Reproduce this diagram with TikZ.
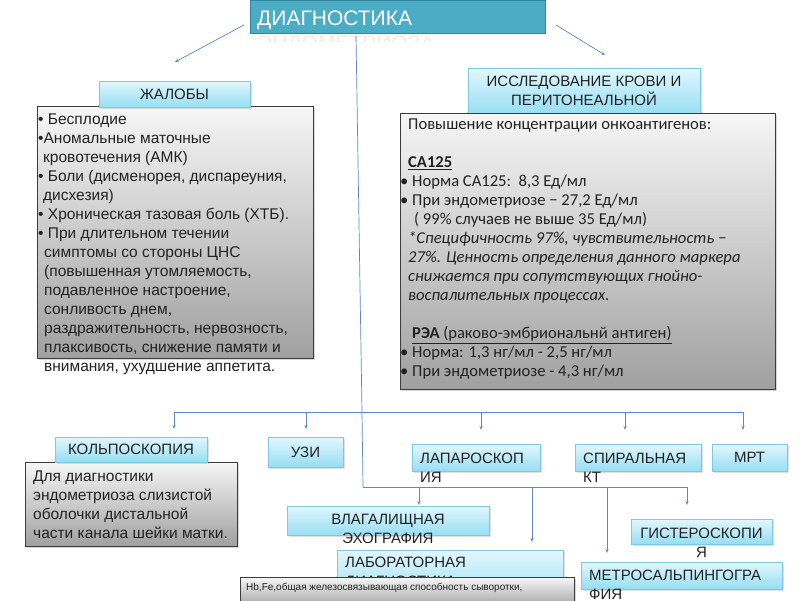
\documentclass[tikz,border=0pt]{standalone}
\usepackage{fontspec}
\setmainfont{Liberation Sans}
\newfontfamily\calibri{Carlito}
\usetikzlibrary{arrows.meta,shadows,positioning,calc}

\begin{document}
\begin{tikzpicture}[x=1pt, y=-1pt, >={Stealth[length=4pt,width=3pt]},
  headbox/.style={draw=boxedge, line width=0.6pt, top color=boxtop, bottom color=boxbottom,
    drop shadow={shadow xshift=1.5pt, shadow yshift=-1.5pt, opacity=0.25},
    inner sep=0pt, text=textgray, font=\fontsize{15}{19}\selectfont},
  notebox/.style={draw=noteedge, line width=0.8pt, top color=notetop, bottom color=notebottom,
    drop shadow={shadow xshift=2pt, shadow yshift=-2pt, opacity=0.3}, inner sep=0pt},
  boxtext/.style={inner sep=0pt, text=textgray, font=\fontsize{15}{19}\selectfont},
  bodytext/.style={anchor=north west, inner sep=0pt, align=left, text=textgray,
    font=\fontsize{15.5}{19}\selectfont},
  link/.style={draw=linkblue, line width=0.7pt}]
  % Define colors
  \definecolor{titleteal}{RGB}{75,172,198}
  \definecolor{titleedge}{RGB}{49,132,155}
  \definecolor{boxtop}{RGB}{226,247,253}
  \definecolor{boxbottom}{RGB}{150,222,243}
  \definecolor{boxedge}{RGB}{125,200,228}
  \definecolor{notetop}{RGB}{246,246,246}
  \definecolor{notebottom}{RGB}{160,160,160}
  \definecolor{noteedge}{RGB}{60,60,60}
  \definecolor{linkblue}{RGB}{95,135,195}
  \definecolor{textgray}{RGB}{34,34,34}

  \useasboundingbox[fill=white] (0,0) rectangle (800,600);

  % Title
  \node[draw=titleedge, line width=1pt, fill=titleteal, minimum width=295, minimum height=33, inner sep=0pt] (title) at (397.5,16.5) {};
  \node[anchor=base west, inner sep=0pt, text=white, font=\fontsize{21}{24}\selectfont] (titletxt) at (257,25) {ДИАГНОСТИКА};
  \begin{scope}
    \clip (250,33) rectangle (545,41);
    \node[anchor=base west, inner sep=0pt, text=black!7, font=\fontsize{21}{24}\selectfont] (titlerest) at (257,50) {ЭНДОМЕТРИОЗА};
  \end{scope}

  % Arrows from title
  \coordinate (tleft) at (244,25);
  \coordinate (tlefttip) at (175,62);
  \coordinate (tright) at (556,25);
  \coordinate (trighttip) at (605,55);
  \draw[link,->] (tleft) -- (tlefttip);
  \draw[link,->] (tright) -- (trighttip);

  % Complaints
  \node[notebox, minimum width=276, minimum height=252] (complaints) at (175,232) {};
  \node[headbox, minimum width=151, minimum height=26] (zhaloby) at (174.5,94) {ЖАЛОБЫ};
  \node[bodytext] (complaintstxt) at (38,114) {%
    • Бесплодие\\
    •Аномальные маточные\\
    \hspace*{5pt}кровотечения (АМК)\\
    • Боли (дисменорея, диспареуния,\\
    \hspace*{5pt}дисхезия)\\
    • Хроническая тазовая боль (ХТБ).\\
    • При длительном течении\\
    \hspace*{6pt}симптомы со стороны ЦНС\\
    \hspace*{6pt}(повышенная утомляемость,\\
    \hspace*{6pt}подавленное настроение,\\
    \hspace*{6pt}сонливость днем,\\
    \hspace*{6pt}раздражительность, нервозность,\\
    \hspace*{6pt}плаксивость, снижение памяти и\\
    \hspace*{6pt}внимания, ухудшение аппетита.};

  % Blood tests
  \node[headbox, minimum width=232, minimum height=46, align=center] (blood) at (584,91) {ИССЛЕДОВАНИЕ КРОВИ И\\ПЕРИТОНЕАЛЬНОЙ};
  \node[notebox, minimum width=375, minimum height=276] (bloodnote) at (587.5,251) {};
  \node[bodytext, font=\calibri\fontsize{16.6}{19}\selectfont] (bloodtxt) at (400,119) {%
    \hspace*{8pt}Повышение концентрации онкоантигенов:\\[19pt]
    \hspace*{8pt}\underline{\textbf{CA125}}\\
    • Норма CA125:\ \ 8,3 Ед/мл\\
    • При эндометриозе − 27,2 Ед/мл\\
    \hspace*{14pt}( 99\% случаев не выше 35 Ед/мл)\\
    \hspace*{8pt}\textit{*Специфичность 97\%, чувствительность −}\\
    \hspace*{8pt}\textit{27\%. Ценность определения данного маркера}\\
    \hspace*{8pt}\textit{снижается при сопутствующих гнойно-}\\
    \hspace*{8pt}\textit{воспалительных процессах.}\\[19pt]
    \hspace*{12pt}\underline{\textbf{РЭА} (раково-эмбриональнй антиген)}\\
    • Норма: 1,3 нг/мл - 2,5 нг/мл\\
    • При эндометриозе - 4,3 нг/мл};

  % Tree of methods
  \coordinate (stemtop) at (356,36);
  \coordinate (busup) at (362,412);
  \coordinate (buslow) at (363,487);
  \draw[link] (stemtop) -- (busup) -- (buslow);
  \foreach \x/\y in {174/429, 306/429, 481/430, 625/430, 743/430}
    \draw[link,->] (busup) -| (\x,\y);
  \foreach \x/\y in {419/505, 532/542, 607/553, 687/505}
    \draw[link,->] (buslow) -| (\x,\y);

  % Upper row
  \node[notebox, minimum width=212, minimum height=84] (kolponote) at (131,504) {};
  \node[bodytext] (kolpotxt) at (33,471) {%
    Для диагностики\\
    эндометриоза слизистой\\
    оболочки дистальной\\
    части канала шейки матки.};
  \node[headbox, minimum width=152, minimum height=25] (kolpo) at (131,449.5) {КОЛЬПОСКОПИЯ};
  \node[headbox, minimum width=75, minimum height=30] (uzi) at (305.5,452) {УЗИ};
  \node[headbox, minimum width=128, minimum height=27] (lapar) at (476,457.5) {};
  \node[boxtext, anchor=north west, align=left] (lapartxt) at (420,453) {ЛАПАРОСКОП\\ИЯ};
  \node[headbox, minimum width=126, minimum height=27] (spiral) at (638,457.5) {};
  \node[boxtext, anchor=north west, align=left] (spiraltxt) at (583,453) {СПИРАЛЬНАЯ\\КТ};
  \node[headbox, minimum width=75, minimum height=27] (mrt) at (749.5,457.5) {МРТ};

  % Lower row
  \node[headbox, minimum width=202, minimum height=29] (vagin) at (388,520.5) {};
  \node[boxtext, anchor=north, align=center] (vagintxt) at (388,514) {ВЛАГАЛИЩНАЯ\\ЭХОГРАФИЯ};
  \node[headbox, minimum width=226, minimum height=55] (labor) at (450,577.5) {};
  \node[boxtext, anchor=north west, align=left] (labortxt) at (345,557) {ЛАБОРАТОРНАЯ\\ДИАГНОСТИКА};
  \node[notebox, minimum width=334, minimum height=30, anchor=north west] (labnote) at (240,577) {};
  \node[inner sep=0pt, anchor=west, text=textgray, font=\fontsize{10}{12}\selectfont] (labnotetxt) at (246,588) {Hb,Fe,общая железосвязывающая способность сыворотки,};
  \node[headbox, minimum width=141, minimum height=25] (hystero) at (701.5,531.5) {};
  \node[boxtext, anchor=north, align=center] (hysterotxt) at (701.5,528) {ГИСТЕРОСКОПИ\\Я};
  \node[headbox, minimum width=201, minimum height=27] (metro) at (681.5,575.5) {};
  \node[boxtext, anchor=north west, align=left] (metrotxt) at (589,570) {МЕТРОСАЛЬПИНГОГРА\\ФИЯ};
\end{tikzpicture}
\end{document}
